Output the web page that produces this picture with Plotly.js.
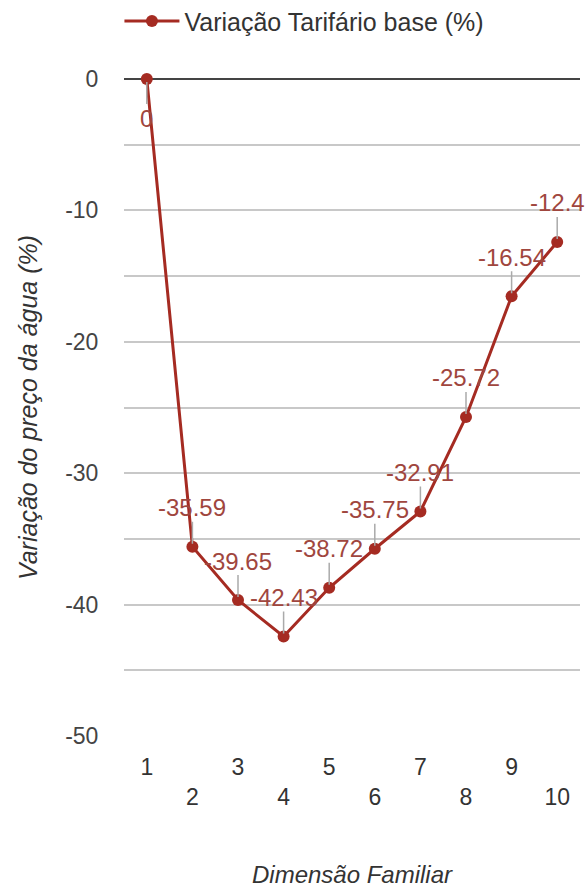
<!DOCTYPE html>
<html>
<head>
<meta charset="utf-8">
<script src="https://cdn.plot.ly/plotly-3.0.1.min.js"></script>
<style>
  html, body { margin: 0; padding: 0; background: #fff; }
  #chart { width: 587px; height: 888px; }
</style>
</head>
<body>
<div id="chart"></div>
<script>
// ---- data ----
const categories = [1, 2, 3, 4, 5, 6, 7, 8, 9, 10];
const xLabels = ['1', '2', '3', '4', '5', '6', '7', '8', '9', '10'];
const variacao = [0, -35.59, -39.65, -42.43, -38.72, -35.75, -32.91, -25.72, -16.54, -12.4];
const pointLabels = ['0', '-35.59', '-39.65', '-42.43', '-38.72', '-35.75', '-32.91', '-25.72', '-16.54', '-12.4'];
const yTickVals = [0, -10, -20, -30, -40, -50];
const yTickText = ['0', '-10', '-20', '-30', '-40', '-50'];
const seriesName = 'Variação Tarifário base (%)';
const xTitle = 'Dimensão Familiar';
const yTitle = 'Variação do preço da água (%)';

// ---- style ----
const FONT = 'Liberation Sans, Arial, Helvetica, sans-serif';
const LINE_COLOR = '#a52b22';
const ANN_COLOR = '#a0463e';

// staggered x tick labels (even ones on a second row)
const xTickText = xLabels.map((l, i) => (i % 2 === 1 ? '<br>' + l : l));

const trace = {
  type: 'scatter',
  mode: 'lines+markers',
  x: categories,
  y: variacao,
  name: seriesName,
  line: { color: LINE_COLOR, width: 3 },
  marker: { color: LINE_COLOR, size: 12 },
  cliponaxis: false,
  hoverinfo: 'x+y'
};

const annotations = categories.map((c, i) => {
  const below = variacao[i] === 0;
  return {
    x: c,
    y: variacao[i],
    xref: 'x',
    yref: 'y',
    text: pointLabels[i],
    showarrow: true,
    arrowhead: 0,
    arrowwidth: 1.5,
    arrowcolor: '#aaaaaa',
    standoff: 3,
    ax: 0,
    ay: below ? 39 : -39,
    font: { family: FONT, size: 24, color: ANN_COLOR },
    bgcolor: 'rgba(0,0,0,0)',
    borderpad: 0
  };
});

const layout = {
  width: 587,
  height: 888,
  paper_bgcolor: '#ffffff',
  plot_bgcolor: '#ffffff',
  margin: { l: 124, r: 7, t: 79, b: 152, autoexpand: false },
  font: { family: FONT, size: 23, color: '#444' },
  showlegend: true,
  legend: {
    orientation: 'h',
    x: -0.01,
    xanchor: 'left',
    y: 1.088,
    yanchor: 'middle',
    font: { family: FONT, size: 25, color: '#333' },
    itemwidth: 55,
    bgcolor: 'rgba(0,0,0,0)'
  },
  xaxis: {
    range: [0.5, 10.5],
    tickmode: 'array',
    tickvals: categories,
    ticktext: xTickText,
    showgrid: false,
    zeroline: false,
    showline: false,
    ticks: 'outside',
    ticklen: 10,
    tickcolor: 'rgba(0,0,0,0)',
    tickfont: { family: FONT, size: 23, color: '#333' },
    title: {
      text: xTitle,
      font: { family: FONT, size: 24, color: '#333' },
      standoff: 57
    },
    fixedrange: true
  },
  yaxis: {
    range: [-50, 0],
    tickmode: 'array',
    tickvals: yTickVals,
    ticktext: yTickText,
    showgrid: true,
    gridcolor: '#c8c8c8',
    gridwidth: 2,
    minor: { dtick: 5, showgrid: true, gridcolor: '#c8c8c8', gridwidth: 2, tick0: 0 },
    zeroline: true,
    zerolinecolor: '#444444',
    zerolinewidth: 2.5,
    showline: false,
    ticks: 'outside',
    ticklen: 20,
    tickcolor: 'rgba(0,0,0,0)',
    tickfont: { family: FONT, size: 23, color: '#444' },
    title: {
      text: yTitle,
      font: { family: FONT, size: 25, color: '#333' },
      standoff: 20
    },
    fixedrange: true
  },
  annotations: annotations
};

// italic titles
layout.xaxis.title.text = '<i>' + xTitle + '</i>';
layout.yaxis.title.text = '<i>' + yTitle + '</i>';

Plotly.newPlot('chart', [trace], layout, { displayModeBar: false, staticPlot: true });
</script>
</body>
</html>
